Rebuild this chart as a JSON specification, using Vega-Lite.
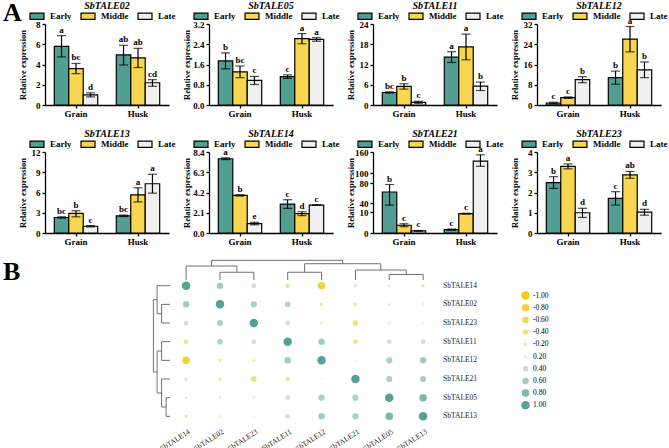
{
"$schema": "https://vega.github.io/schema/vega-lite/v6.json",
"padding": {"left": 3, "top": 0, "right": 0, "bottom": 8},
"background": "white",
"title": {"text": "A", "anchor": "start", "frame": "bounds", "fontSize": 26, "fontStyle": "normal", "fontWeight": "bold", "font": "Liberation Serif", "offset": -25, "color": "black"},
"datasets": {
"bars": [
{"gene":"SbTALE02","tissue":"Grain","stage":"Early","mean":5.8,"lo":4.75,"hi":6.85,"sig":"a"},
{"gene":"SbTALE02","tissue":"Grain","stage":"Middle","mean":3.6,"lo":3.1,"hi":4.1,"sig":"bc"},
{"gene":"SbTALE02","tissue":"Grain","stage":"Late","mean":1.0,"lo":0.8,"hi":1.2,"sig":"d"},
{"gene":"SbTALE02","tissue":"Husk","stage":"Early","mean":4.95,"lo":3.95,"hi":5.9,"sig":"ab"},
{"gene":"SbTALE02","tissue":"Husk","stage":"Middle","mean":4.65,"lo":3.7,"hi":5.6,"sig":"ab"},
{"gene":"SbTALE02","tissue":"Husk","stage":"Late","mean":2.2,"lo":1.85,"hi":2.5,"sig":"cd"},
{"gene":"SbTALE05","tissue":"Grain","stage":"Early","mean":1.74,"lo":1.43,"hi":2.06,"sig":"b"},
{"gene":"SbTALE05","tissue":"Grain","stage":"Middle","mean":1.31,"lo":1.08,"hi":1.54,"sig":"bc"},
{"gene":"SbTALE05","tissue":"Grain","stage":"Late","mean":0.97,"lo":0.81,"hi":1.13,"sig":"c"},
{"gene":"SbTALE05","tissue":"Husk","stage":"Early","mean":1.12,"lo":1.05,"hi":1.19,"sig":"c"},
{"gene":"SbTALE05","tissue":"Husk","stage":"Middle","mean":2.62,"lo":2.42,"hi":2.82,"sig":"a"},
{"gene":"SbTALE05","tissue":"Husk","stage":"Late","mean":2.59,"lo":2.52,"hi":2.66,"sig":"a"},
{"gene":"SbTALE11","tissue":"Grain","stage":"Early","mean":3.7,"lo":3.5,"hi":3.9,"sig":"bc"},
{"gene":"SbTALE11","tissue":"Grain","stage":"Middle","mean":5.5,"lo":4.7,"hi":6.3,"sig":"b"},
{"gene":"SbTALE11","tissue":"Grain","stage":"Late","mean":0.8,"lo":0.5,"hi":1.1,"sig":"c"},
{"gene":"SbTALE11","tissue":"Husk","stage":"Early","mean":14.2,"lo":12.6,"hi":15.8,"sig":"a"},
{"gene":"SbTALE11","tissue":"Husk","stage":"Middle","mean":17.2,"lo":13.4,"hi":21.0,"sig":"a"},
{"gene":"SbTALE11","tissue":"Husk","stage":"Late","mean":5.6,"lo":4.3,"hi":6.8,"sig":"b"},
{"gene":"SbTALE12","tissue":"Grain","stage":"Early","mean":0.8,"lo":0.5,"hi":1.1,"sig":"c"},
{"gene":"SbTALE12","tissue":"Grain","stage":"Middle","mean":2.9,"lo":2.6,"hi":3.2,"sig":"c"},
{"gene":"SbTALE12","tissue":"Grain","stage":"Late","mean":10.0,"lo":8.8,"hi":11.2,"sig":"b"},
{"gene":"SbTALE12","tissue":"Husk","stage":"Early","mean":10.8,"lo":8.2,"hi":13.4,"sig":"b"},
{"gene":"SbTALE12","tissue":"Husk","stage":"Middle","mean":26.0,"lo":21.0,"hi":31.0,"sig":"a"},
{"gene":"SbTALE12","tissue":"Husk","stage":"Late","mean":13.9,"lo":10.8,"hi":17.0,"sig":"b"},
{"gene":"SbTALE13","tissue":"Grain","stage":"Early","mean":2.3,"lo":2.2,"hi":2.4,"sig":"bc"},
{"gene":"SbTALE13","tissue":"Grain","stage":"Middle","mean":2.9,"lo":2.4,"hi":3.3,"sig":"b"},
{"gene":"SbTALE13","tissue":"Grain","stage":"Late","mean":1.0,"lo":0.9,"hi":1.1,"sig":"c"},
{"gene":"SbTALE13","tissue":"Husk","stage":"Early","mean":2.55,"lo":2.45,"hi":2.65,"sig":"bc"},
{"gene":"SbTALE13","tissue":"Husk","stage":"Middle","mean":5.65,"lo":4.6,"hi":6.7,"sig":"a"},
{"gene":"SbTALE13","tissue":"Husk","stage":"Late","mean":7.3,"lo":5.9,"hi":8.7,"sig":"a"},
{"gene":"SbTALE14","tissue":"Grain","stage":"Early","mean":7.7,"lo":7.6,"hi":7.8,"sig":"a"},
{"gene":"SbTALE14","tissue":"Grain","stage":"Middle","mean":3.9,"lo":3.83,"hi":3.97,"sig":"b"},
{"gene":"SbTALE14","tissue":"Grain","stage":"Late","mean":0.98,"lo":0.85,"hi":1.11,"sig":"e"},
{"gene":"SbTALE14","tissue":"Husk","stage":"Early","mean":3.0,"lo":2.55,"hi":3.45,"sig":"c"},
{"gene":"SbTALE14","tissue":"Husk","stage":"Middle","mean":2.0,"lo":1.8,"hi":2.2,"sig":"d"},
{"gene":"SbTALE14","tissue":"Husk","stage":"Late","mean":2.9,"lo":2.9,"hi":2.9,"sig":"c"},
{"gene":"SbTALE21","tissue":"Grain","stage":"Early","mean":62,"lo":33,"hi":77,"sig":"b"},
{"gene":"SbTALE21","tissue":"Grain","stage":"Middle","mean":3.7,"lo":3.0,"hi":4.4,"sig":"c"},
{"gene":"SbTALE21","tissue":"Grain","stage":"Late","mean":1.0,"lo":0.8,"hi":1.2,"sig":"c"},
{"gene":"SbTALE21","tissue":"Husk","stage":"Early","mean":1.6,"lo":1.3,"hi":1.9,"sig":"c"},
{"gene":"SbTALE21","tissue":"Husk","stage":"Middle","mean":9.2,"lo":9.0,"hi":9.4,"sig":"c"},
{"gene":"SbTALE21","tissue":"Husk","stage":"Late","mean":134,"lo":119,"hi":152,"sig":"a"},
{"gene":"SbTALE23","tissue":"Grain","stage":"Early","mean":2.49,"lo":2.2,"hi":2.78,"sig":"b"},
{"gene":"SbTALE23","tissue":"Grain","stage":"Middle","mean":3.29,"lo":3.17,"hi":3.41,"sig":"a"},
{"gene":"SbTALE23","tissue":"Grain","stage":"Late","mean":1.0,"lo":0.77,"hi":1.22,"sig":"d"},
{"gene":"SbTALE23","tissue":"Husk","stage":"Early","mean":1.71,"lo":1.38,"hi":2.04,"sig":"c"},
{"gene":"SbTALE23","tissue":"Husk","stage":"Middle","mean":2.87,"lo":2.7,"hi":3.04,"sig":"ab"},
{"gene":"SbTALE23","tissue":"Husk","stage":"Late","mean":1.03,"lo":0.88,"hi":1.17,"sig":"d"}
],
"corr": [
{"row":"SbTALE14","col":"SbTALE14","i":1,"j":1,"v":1},{"row":"SbTALE14","col":"SbTALE02","i":1,"j":2,"v":0.6},{"row":"SbTALE14","col":"SbTALE23","i":1,"j":3,"v":0.35},{"row":"SbTALE14","col":"SbTALE11","i":1,"j":4,"v":-0.3},{"row":"SbTALE14","col":"SbTALE12","i":1,"j":5,"v":-0.8},{"row":"SbTALE14","col":"SbTALE21","i":1,"j":6,"v":0.25},{"row":"SbTALE14","col":"SbTALE05","i":1,"j":7,"v":-0.1},{"row":"SbTALE14","col":"SbTALE13","i":1,"j":8,"v":-0.2},
{"row":"SbTALE02","col":"SbTALE14","i":2,"j":1,"v":0.6},{"row":"SbTALE02","col":"SbTALE02","i":2,"j":2,"v":1},{"row":"SbTALE02","col":"SbTALE23","i":2,"j":3,"v":0.55},{"row":"SbTALE02","col":"SbTALE11","i":2,"j":4,"v":0.5},{"row":"SbTALE02","col":"SbTALE12","i":2,"j":5,"v":-0.2},{"row":"SbTALE02","col":"SbTALE21","i":2,"j":6,"v":-0.2},{"row":"SbTALE02","col":"SbTALE05","i":2,"j":7,"v":-0.1},{"row":"SbTALE02","col":"SbTALE13","i":2,"j":8,"v":-0.1},
{"row":"SbTALE23","col":"SbTALE14","i":3,"j":1,"v":0.35},{"row":"SbTALE23","col":"SbTALE02","i":3,"j":2,"v":0.55},{"row":"SbTALE23","col":"SbTALE23","i":3,"j":3,"v":1},{"row":"SbTALE23","col":"SbTALE11","i":3,"j":4,"v":0.35},{"row":"SbTALE23","col":"SbTALE12","i":3,"j":5,"v":-0.15},{"row":"SbTALE23","col":"SbTALE21","i":3,"j":6,"v":-0.45},{"row":"SbTALE23","col":"SbTALE05","i":3,"j":7,"v":-0.1},{"row":"SbTALE23","col":"SbTALE13","i":3,"j":8,"v":-0.05},
{"row":"SbTALE11","col":"SbTALE14","i":4,"j":1,"v":-0.3},{"row":"SbTALE11","col":"SbTALE02","i":4,"j":2,"v":0.5},{"row":"SbTALE11","col":"SbTALE23","i":4,"j":3,"v":0.35},{"row":"SbTALE11","col":"SbTALE11","i":4,"j":4,"v":1},{"row":"SbTALE11","col":"SbTALE12","i":4,"j":5,"v":0.6},{"row":"SbTALE11","col":"SbTALE21","i":4,"j":6,"v":-0.3},{"row":"SbTALE11","col":"SbTALE05","i":4,"j":7,"v":0.35},{"row":"SbTALE11","col":"SbTALE13","i":4,"j":8,"v":0.35},
{"row":"SbTALE12","col":"SbTALE14","i":5,"j":1,"v":-0.8},{"row":"SbTALE12","col":"SbTALE02","i":5,"j":2,"v":-0.2},{"row":"SbTALE12","col":"SbTALE23","i":5,"j":3,"v":-0.15},{"row":"SbTALE12","col":"SbTALE11","i":5,"j":4,"v":0.6},{"row":"SbTALE12","col":"SbTALE12","i":5,"j":5,"v":1},{"row":"SbTALE12","col":"SbTALE21","i":5,"j":6,"v":-0.05},{"row":"SbTALE12","col":"SbTALE05","i":5,"j":7,"v":0.55},{"row":"SbTALE12","col":"SbTALE13","i":5,"j":8,"v":0.6},
{"row":"SbTALE21","col":"SbTALE14","i":6,"j":1,"v":0.25},{"row":"SbTALE21","col":"SbTALE02","i":6,"j":2,"v":-0.2},{"row":"SbTALE21","col":"SbTALE23","i":6,"j":3,"v":-0.45},{"row":"SbTALE21","col":"SbTALE11","i":6,"j":4,"v":-0.3},{"row":"SbTALE21","col":"SbTALE12","i":6,"j":5,"v":-0.05},{"row":"SbTALE21","col":"SbTALE21","i":6,"j":6,"v":1},{"row":"SbTALE21","col":"SbTALE05","i":6,"j":7,"v":0.55},{"row":"SbTALE21","col":"SbTALE13","i":6,"j":8,"v":0.55},
{"row":"SbTALE05","col":"SbTALE14","i":7,"j":1,"v":-0.1},{"row":"SbTALE05","col":"SbTALE02","i":7,"j":2,"v":-0.1},{"row":"SbTALE05","col":"SbTALE23","i":7,"j":3,"v":-0.1},{"row":"SbTALE05","col":"SbTALE11","i":7,"j":4,"v":0.35},{"row":"SbTALE05","col":"SbTALE12","i":7,"j":5,"v":0.55},{"row":"SbTALE05","col":"SbTALE21","i":7,"j":6,"v":0.55},{"row":"SbTALE05","col":"SbTALE05","i":7,"j":7,"v":1},{"row":"SbTALE05","col":"SbTALE13","i":7,"j":8,"v":0.8},
{"row":"SbTALE13","col":"SbTALE14","i":8,"j":1,"v":-0.2},{"row":"SbTALE13","col":"SbTALE02","i":8,"j":2,"v":-0.1},{"row":"SbTALE13","col":"SbTALE23","i":8,"j":3,"v":-0.05},{"row":"SbTALE13","col":"SbTALE11","i":8,"j":4,"v":0.35},{"row":"SbTALE13","col":"SbTALE12","i":8,"j":5,"v":0.6},{"row":"SbTALE13","col":"SbTALE21","i":8,"j":6,"v":0.55},{"row":"SbTALE13","col":"SbTALE05","i":8,"j":7,"v":0.8},{"row":"SbTALE13","col":"SbTALE13","i":8,"j":8,"v":1}
],
"rowTree": [
{"h":0.144,"h2":0.527,"p":1,"p2":1},{"h":0.276,"h2":0.527,"p":2,"p2":2},{"h":0.276,"h2":0.527,"p":3,"p2":3},{"h":0.276,"h2":0.527,"p":4,"p2":4},{"h":0.276,"h2":0.527,"p":5,"p2":5},{"h":0.276,"h2":0.527,"p":6,"p2":6},{"h":0.409,"h2":0.527,"p":7,"p2":7},{"h":0.409,"h2":0.527,"p":8,"p2":8},
{"h":0.276,"h2":0.276,"p":2,"p2":3},{"h":0.144,"h2":0.276,"p":2.5,"p2":2.5},{"h":0.144,"h2":0.144,"p":1,"p2":2.5},{"h":0.034,"h2":0.144,"p":1.75,"p2":1.75},
{"h":0.276,"h2":0.276,"p":4,"p2":5},{"h":0.144,"h2":0.276,"p":4.5,"p2":4.5},{"h":0.409,"h2":0.409,"p":7,"p2":8},{"h":0.276,"h2":0.409,"p":7.5,"p2":7.5},
{"h":0.276,"h2":0.276,"p":6,"p2":7.5},{"h":0.144,"h2":0.276,"p":6.75,"p2":6.75},{"h":0.144,"h2":0.144,"p":4.5,"p2":6.75},{"h":0.034,"h2":0.144,"p":5.625,"p2":5.625},{"h":0.034,"h2":0.034,"p":1.75,"p2":5.625}
],
"colTree": [
{"p":1,"p2":1,"h":-0.054,"h2":0.695},{"p":2,"p2":2,"h":0.28,"h2":0.695},{"p":3,"p2":3,"h":0.28,"h2":0.695},{"p":4,"p2":4,"h":0.28,"h2":0.695},{"p":5,"p2":5,"h":0.28,"h2":0.695},{"p":6,"p2":6,"h":0.16,"h2":0.695},{"p":7,"p2":7,"h":0.4,"h2":0.695},{"p":8,"p2":8,"h":0.4,"h2":0.695},
{"p":2,"p2":3,"h":0.28,"h2":0.28},{"p":2.5,"p2":2.5,"h":-0.054,"h2":0.28},{"p":1,"p2":2.5,"h":-0.054,"h2":-0.054},{"p":1.75,"p2":1.75,"h":-0.359,"h2":-0.054},
{"p":4,"p2":5,"h":0.28,"h2":0.28},{"p":4.5,"p2":4.5,"h":-0.177,"h2":0.28},{"p":7,"p2":8,"h":0.4,"h2":0.4},{"p":7.5,"p2":7.5,"h":0.16,"h2":0.4},
{"p":6,"p2":7.5,"h":0.16,"h2":0.16},{"p":6.75,"p2":6.75,"h":-0.177,"h2":0.16},{"p":4.5,"p2":6.75,"h":-0.177,"h2":-0.177},{"p":5.625,"p2":5.625,"h":-0.359,"h2":-0.177},{"p":1.75,"p2":5.625,"h":-0.359,"h2":-0.359}
]
},
"columns": 4,
"align": "none",
"bounds": "flush",
"spacing": {"row": 47, "column": 40},
"resolve": {"scale": {"color": "independent", "size": "independent"}, "legend": {"color": "independent", "size": "independent"}},
"concat": [
{"title": "SbTALE02", "width": 124, "height": 81, "data": {"name": "bars"}, "transform": [{"filter": "datum.gene === 'SbTALE02'"}],
"encoding": {"x": {"field": "tissue", "type": "nominal", "sort": ["Grain", "Husk"], "title": null, "scale": {"paddingInner": 0.3, "paddingOuter": 0.15}, "axis": {"labelAngle": 0}}, "xOffset": {"field": "stage", "type": "nominal", "sort": ["Early", "Middle", "Late"], "scale": {"paddingInner": 0, "paddingOuter": 0}}},
"layer": [
{"mark": {"type": "bar", "stroke": "black", "strokeWidth": 1.2}, "encoding": {"y": {"field": "mean", "type": "quantitative", "title": "Relative expression", "scale": {"domain": [0, 8], "nice": false}, "axis": {"values": [0, 2, 4, 6, 8], "labelOverlap": false}}, "color": {"field": "stage", "type": "nominal", "sort": ["Early", "Middle", "Late"], "legend": {"title": null}}}},
{"mark": {"type": "rule", "color": "black", "strokeWidth": 1.2}, "encoding": {"y": {"field": "lo", "type": "quantitative", "title": "Relative expression", "axis": {"values": [0, 2, 4, 6, 8], "labelOverlap": false}}, "y2": {"field": "hi"}}},
{"mark": {"type": "tick", "color": "black", "thickness": 1.2, "size": 9}, "encoding": {"y": {"field": "lo", "type": "quantitative", "title": "Relative expression", "axis": {"values": [0, 2, 4, 6, 8], "labelOverlap": false}}}},
{"mark": {"type": "tick", "color": "black", "thickness": 1.2, "size": 9}, "encoding": {"y": {"field": "hi", "type": "quantitative", "title": "Relative expression", "axis": {"values": [0, 2, 4, 6, 8], "labelOverlap": false}}}},
{"mark": {"type": "text", "baseline": "bottom", "dy": -1, "font": "Liberation Serif", "fontWeight": "bold", "fontSize": 9, "color": "black"}, "encoding": {"y": {"field": "hi", "type": "quantitative", "title": "Relative expression", "axis": {"values": [0, 2, 4, 6, 8], "labelOverlap": false}}, "text": {"field": "sig"}}}
]},
{"title": "SbTALE05", "width": 124, "height": 81, "data": {"name": "bars"}, "transform": [{"filter": "datum.gene === 'SbTALE05'"}],
"encoding": {"x": {"field": "tissue", "type": "nominal", "sort": ["Grain", "Husk"], "title": null, "scale": {"paddingInner": 0.3, "paddingOuter": 0.15}, "axis": {"labelAngle": 0}}, "xOffset": {"field": "stage", "type": "nominal", "sort": ["Early", "Middle", "Late"], "scale": {"paddingInner": 0, "paddingOuter": 0}}},
"layer": [
{"mark": {"type": "bar", "stroke": "black", "strokeWidth": 1.2}, "encoding": {"y": {"field": "mean", "type": "quantitative", "title": "Relative expression", "scale": {"domain": [0, 3.2], "nice": false}, "axis": {"values": [0, 0.8, 1.6, 2.4, 3.2], "format": ".1f", "labelOverlap": false}}, "color": {"field": "stage", "type": "nominal", "sort": ["Early", "Middle", "Late"], "legend": {"title": null}}}},
{"mark": {"type": "rule", "color": "black", "strokeWidth": 1.2}, "encoding": {"y": {"field": "lo", "type": "quantitative", "title": "Relative expression", "axis": {"values": [0, 0.8, 1.6, 2.4, 3.2], "format": ".1f", "labelOverlap": false}}, "y2": {"field": "hi"}}},
{"mark": {"type": "tick", "color": "black", "thickness": 1.2, "size": 9}, "encoding": {"y": {"field": "lo", "type": "quantitative", "title": "Relative expression", "axis": {"values": [0, 0.8, 1.6, 2.4, 3.2], "format": ".1f", "labelOverlap": false}}}},
{"mark": {"type": "tick", "color": "black", "thickness": 1.2, "size": 9}, "encoding": {"y": {"field": "hi", "type": "quantitative", "title": "Relative expression", "axis": {"values": [0, 0.8, 1.6, 2.4, 3.2], "format": ".1f", "labelOverlap": false}}}},
{"mark": {"type": "text", "baseline": "bottom", "dy": -1, "font": "Liberation Serif", "fontWeight": "bold", "fontSize": 9, "color": "black"}, "encoding": {"y": {"field": "hi", "type": "quantitative", "title": "Relative expression", "axis": {"values": [0, 0.8, 1.6, 2.4, 3.2], "format": ".1f", "labelOverlap": false}}, "text": {"field": "sig"}}}
]},
{"title": "SbTALE11", "width": 124, "height": 81, "data": {"name": "bars"}, "transform": [{"filter": "datum.gene === 'SbTALE11'"}],
"encoding": {"x": {"field": "tissue", "type": "nominal", "sort": ["Grain", "Husk"], "title": null, "scale": {"paddingInner": 0.3, "paddingOuter": 0.15}, "axis": {"labelAngle": 0}}, "xOffset": {"field": "stage", "type": "nominal", "sort": ["Early", "Middle", "Late"], "scale": {"paddingInner": 0, "paddingOuter": 0}}},
"layer": [
{"mark": {"type": "bar", "stroke": "black", "strokeWidth": 1.2}, "encoding": {"y": {"field": "mean", "type": "quantitative", "title": "Relative expression", "scale": {"domain": [0, 24], "nice": false}, "axis": {"values": [0, 6, 12, 18, 24], "labelOverlap": false}}, "color": {"field": "stage", "type": "nominal", "sort": ["Early", "Middle", "Late"], "legend": {"title": null}}}},
{"mark": {"type": "rule", "color": "black", "strokeWidth": 1.2}, "encoding": {"y": {"field": "lo", "type": "quantitative", "title": "Relative expression", "axis": {"values": [0, 6, 12, 18, 24], "labelOverlap": false}}, "y2": {"field": "hi"}}},
{"mark": {"type": "tick", "color": "black", "thickness": 1.2, "size": 9}, "encoding": {"y": {"field": "lo", "type": "quantitative", "title": "Relative expression", "axis": {"values": [0, 6, 12, 18, 24], "labelOverlap": false}}}},
{"mark": {"type": "tick", "color": "black", "thickness": 1.2, "size": 9}, "encoding": {"y": {"field": "hi", "type": "quantitative", "title": "Relative expression", "axis": {"values": [0, 6, 12, 18, 24], "labelOverlap": false}}}},
{"mark": {"type": "text", "baseline": "bottom", "dy": -1, "font": "Liberation Serif", "fontWeight": "bold", "fontSize": 9, "color": "black"}, "encoding": {"y": {"field": "hi", "type": "quantitative", "title": "Relative expression", "axis": {"values": [0, 6, 12, 18, 24], "labelOverlap": false}}, "text": {"field": "sig"}}}
]},
{"title": "SbTALE12", "width": 124, "height": 81, "data": {"name": "bars"}, "transform": [{"filter": "datum.gene === 'SbTALE12'"}],
"encoding": {"x": {"field": "tissue", "type": "nominal", "sort": ["Grain", "Husk"], "title": null, "scale": {"paddingInner": 0.3, "paddingOuter": 0.15}, "axis": {"labelAngle": 0}}, "xOffset": {"field": "stage", "type": "nominal", "sort": ["Early", "Middle", "Late"], "scale": {"paddingInner": 0, "paddingOuter": 0}}},
"layer": [
{"mark": {"type": "bar", "stroke": "black", "strokeWidth": 1.2}, "encoding": {"y": {"field": "mean", "type": "quantitative", "title": "Relative expression", "scale": {"domain": [0, 32], "nice": false}, "axis": {"values": [0, 8, 16, 24, 32], "labelOverlap": false}}, "color": {"field": "stage", "type": "nominal", "sort": ["Early", "Middle", "Late"], "legend": {"title": null}}}},
{"mark": {"type": "rule", "color": "black", "strokeWidth": 1.2}, "encoding": {"y": {"field": "lo", "type": "quantitative", "title": "Relative expression", "axis": {"values": [0, 8, 16, 24, 32], "labelOverlap": false}}, "y2": {"field": "hi"}}},
{"mark": {"type": "tick", "color": "black", "thickness": 1.2, "size": 9}, "encoding": {"y": {"field": "lo", "type": "quantitative", "title": "Relative expression", "axis": {"values": [0, 8, 16, 24, 32], "labelOverlap": false}}}},
{"mark": {"type": "tick", "color": "black", "thickness": 1.2, "size": 9}, "encoding": {"y": {"field": "hi", "type": "quantitative", "title": "Relative expression", "axis": {"values": [0, 8, 16, 24, 32], "labelOverlap": false}}}},
{"mark": {"type": "text", "baseline": "bottom", "dy": -1, "font": "Liberation Serif", "fontWeight": "bold", "fontSize": 9, "color": "black"}, "encoding": {"y": {"field": "hi", "type": "quantitative", "title": "Relative expression", "axis": {"values": [0, 8, 16, 24, 32], "labelOverlap": false}}, "text": {"field": "sig"}}}
]},
{"title": "SbTALE13", "width": 124, "height": 81, "data": {"name": "bars"}, "transform": [{"filter": "datum.gene === 'SbTALE13'"}],
"encoding": {"x": {"field": "tissue", "type": "nominal", "sort": ["Grain", "Husk"], "title": null, "scale": {"paddingInner": 0.3, "paddingOuter": 0.15}, "axis": {"labelAngle": 0}}, "xOffset": {"field": "stage", "type": "nominal", "sort": ["Early", "Middle", "Late"], "scale": {"paddingInner": 0, "paddingOuter": 0}}},
"layer": [
{"mark": {"type": "bar", "stroke": "black", "strokeWidth": 1.2}, "encoding": {"y": {"field": "mean", "type": "quantitative", "title": "Relative expression", "scale": {"domain": [0, 12], "nice": false}, "axis": {"values": [0, 3, 6, 9, 12], "labelOverlap": false}}, "color": {"field": "stage", "type": "nominal", "sort": ["Early", "Middle", "Late"], "legend": {"title": null}}}},
{"mark": {"type": "rule", "color": "black", "strokeWidth": 1.2}, "encoding": {"y": {"field": "lo", "type": "quantitative", "title": "Relative expression", "axis": {"values": [0, 3, 6, 9, 12], "labelOverlap": false}}, "y2": {"field": "hi"}}},
{"mark": {"type": "tick", "color": "black", "thickness": 1.2, "size": 9}, "encoding": {"y": {"field": "lo", "type": "quantitative", "title": "Relative expression", "axis": {"values": [0, 3, 6, 9, 12], "labelOverlap": false}}}},
{"mark": {"type": "tick", "color": "black", "thickness": 1.2, "size": 9}, "encoding": {"y": {"field": "hi", "type": "quantitative", "title": "Relative expression", "axis": {"values": [0, 3, 6, 9, 12], "labelOverlap": false}}}},
{"mark": {"type": "text", "baseline": "bottom", "dy": -1, "font": "Liberation Serif", "fontWeight": "bold", "fontSize": 9, "color": "black"}, "encoding": {"y": {"field": "hi", "type": "quantitative", "title": "Relative expression", "axis": {"values": [0, 3, 6, 9, 12], "labelOverlap": false}}, "text": {"field": "sig"}}}
]},
{"title": "SbTALE14", "width": 124, "height": 81, "data": {"name": "bars"}, "transform": [{"filter": "datum.gene === 'SbTALE14'"}],
"encoding": {"x": {"field": "tissue", "type": "nominal", "sort": ["Grain", "Husk"], "title": null, "scale": {"paddingInner": 0.3, "paddingOuter": 0.15}, "axis": {"labelAngle": 0}}, "xOffset": {"field": "stage", "type": "nominal", "sort": ["Early", "Middle", "Late"], "scale": {"paddingInner": 0, "paddingOuter": 0}}},
"layer": [
{"mark": {"type": "bar", "stroke": "black", "strokeWidth": 1.2}, "encoding": {"y": {"field": "mean", "type": "quantitative", "title": "Relative expression", "scale": {"domain": [0, 8.4], "nice": false}, "axis": {"values": [0, 2.1, 4.2, 6.3, 8.4], "format": ".1f", "labelOverlap": false}}, "color": {"field": "stage", "type": "nominal", "sort": ["Early", "Middle", "Late"], "legend": {"title": null}}}},
{"mark": {"type": "rule", "color": "black", "strokeWidth": 1.2}, "encoding": {"y": {"field": "lo", "type": "quantitative", "title": "Relative expression", "axis": {"values": [0, 2.1, 4.2, 6.3, 8.4], "format": ".1f", "labelOverlap": false}}, "y2": {"field": "hi"}}},
{"mark": {"type": "tick", "color": "black", "thickness": 1.2, "size": 9}, "encoding": {"y": {"field": "lo", "type": "quantitative", "title": "Relative expression", "axis": {"values": [0, 2.1, 4.2, 6.3, 8.4], "format": ".1f", "labelOverlap": false}}}},
{"mark": {"type": "tick", "color": "black", "thickness": 1.2, "size": 9}, "encoding": {"y": {"field": "hi", "type": "quantitative", "title": "Relative expression", "axis": {"values": [0, 2.1, 4.2, 6.3, 8.4], "format": ".1f", "labelOverlap": false}}}},
{"mark": {"type": "text", "baseline": "bottom", "dy": -1, "font": "Liberation Serif", "fontWeight": "bold", "fontSize": 9, "color": "black"}, "encoding": {"y": {"field": "hi", "type": "quantitative", "title": "Relative expression", "axis": {"values": [0, 2.1, 4.2, 6.3, 8.4], "format": ".1f", "labelOverlap": false}}, "text": {"field": "sig"}}}
]},
{"title": "SbTALE21", "width": 124, "height": 81, "data": {"name": "bars"}, "transform": [{"filter": "datum.gene === 'SbTALE21'"}],
"encoding": {"x": {"field": "tissue", "type": "nominal", "sort": ["Grain", "Husk"], "title": null, "scale": {"paddingInner": 0.3, "paddingOuter": 0.15}, "axis": {"labelAngle": 0}}, "xOffset": {"field": "stage", "type": "nominal", "sort": ["Early", "Middle", "Late"], "scale": {"paddingInner": 0, "paddingOuter": 0}}},
"layer": [
{"mark": {"type": "bar", "stroke": "black", "strokeWidth": 1.2}, "encoding": {"y": {"field": "mean", "type": "quantitative", "title": "Relative expression", "scale": {"domain": [0, 10, 40, 80, 100, 160], "range": [81, 60, 51, 31, 21, 0], "nice": false, "zero": false}, "axis": {"values": [0, 10, 40, 80, 100, 160], "labelOverlap": false}}, "color": {"field": "stage", "type": "nominal", "sort": ["Early", "Middle", "Late"], "legend": {"title": null}}}},
{"mark": {"type": "rule", "color": "black", "strokeWidth": 1.2}, "encoding": {"y": {"field": "lo", "type": "quantitative", "title": "Relative expression", "axis": {"values": [0, 10, 40, 80, 100, 160], "labelOverlap": false}}, "y2": {"field": "hi"}}},
{"mark": {"type": "tick", "color": "black", "thickness": 1.2, "size": 9}, "encoding": {"y": {"field": "lo", "type": "quantitative", "title": "Relative expression", "axis": {"values": [0, 10, 40, 80, 100, 160], "labelOverlap": false}}}},
{"mark": {"type": "tick", "color": "black", "thickness": 1.2, "size": 9}, "encoding": {"y": {"field": "hi", "type": "quantitative", "title": "Relative expression", "axis": {"values": [0, 10, 40, 80, 100, 160], "labelOverlap": false}}}},
{"mark": {"type": "text", "baseline": "bottom", "dy": -1, "font": "Liberation Serif", "fontWeight": "bold", "fontSize": 9, "color": "black"}, "encoding": {"y": {"field": "hi", "type": "quantitative", "title": "Relative expression", "axis": {"values": [0, 10, 40, 80, 100, 160], "labelOverlap": false}}, "text": {"field": "sig"}}}
]},
{"title": "SbTALE23", "width": 124, "height": 81, "data": {"name": "bars"}, "transform": [{"filter": "datum.gene === 'SbTALE23'"}],
"encoding": {"x": {"field": "tissue", "type": "nominal", "sort": ["Grain", "Husk"], "title": null, "scale": {"paddingInner": 0.3, "paddingOuter": 0.15}, "axis": {"labelAngle": 0}}, "xOffset": {"field": "stage", "type": "nominal", "sort": ["Early", "Middle", "Late"], "scale": {"paddingInner": 0, "paddingOuter": 0}}},
"layer": [
{"mark": {"type": "bar", "stroke": "black", "strokeWidth": 1.2}, "encoding": {"y": {"field": "mean", "type": "quantitative", "title": "Relative expression", "scale": {"domain": [0, 4], "nice": false}, "axis": {"values": [0, 1, 2, 3, 4], "labelOverlap": false}}, "color": {"field": "stage", "type": "nominal", "sort": ["Early", "Middle", "Late"], "legend": {"title": null}}}},
{"mark": {"type": "rule", "color": "black", "strokeWidth": 1.2}, "encoding": {"y": {"field": "lo", "type": "quantitative", "title": "Relative expression", "axis": {"values": [0, 1, 2, 3, 4], "labelOverlap": false}}, "y2": {"field": "hi"}}},
{"mark": {"type": "tick", "color": "black", "thickness": 1.2, "size": 9}, "encoding": {"y": {"field": "lo", "type": "quantitative", "title": "Relative expression", "axis": {"values": [0, 1, 2, 3, 4], "labelOverlap": false}}}},
{"mark": {"type": "tick", "color": "black", "thickness": 1.2, "size": 9}, "encoding": {"y": {"field": "hi", "type": "quantitative", "title": "Relative expression", "axis": {"values": [0, 1, 2, 3, 4], "labelOverlap": false}}}},
{"mark": {"type": "text", "baseline": "bottom", "dy": -1, "font": "Liberation Serif", "fontWeight": "bold", "fontSize": 9, "color": "black"}, "encoding": {"y": {"field": "hi", "type": "quantitative", "title": "Relative expression", "axis": {"values": [0, 1, 2, 3, 4], "labelOverlap": false}}, "text": {"field": "sig"}}}
]},
{
"width": 124,
"height": 155,
"layer": [
{"data": {"name": "colTree"}, "mark": {"type": "rule", "color": "#707070", "strokeWidth": 1}, "encoding": {"x": {"field": "p", "type": "quantitative", "axis": null, "scale": {"domain": [-3.167, 9], "range": [0, 412], "nice": false, "zero": false}}, "x2": {"field": "p2"}, "y": {"field": "h", "type": "quantitative", "axis": null, "scale": {"domain": [0.695, 9], "reverse": true, "nice": false, "zero": false}}, "y2": {"field": "h2"}}},
{"data": {"name": "rowTree"}, "mark": {"type": "rule", "color": "#707070", "strokeWidth": 1}, "encoding": {"x": {"field": "h", "type": "quantitative", "axis": null}, "x2": {"field": "h2"}, "y": {"field": "p", "type": "quantitative", "axis": null}, "y2": {"field": "p2"}}},
{"data": {"name": "corr"}, "mark": {"type": "circle", "opacity": 1},
"encoding": {"x": {"field": "j", "type": "quantitative", "axis": null}, "y": {"field": "i", "type": "quantitative", "axis": null},
"color": {"field": "v", "type": "quantitative", "scale": {"domain": [-1, -0.6, -0.2, 0, 0.2, 0.6, 1], "range": ["#F0CD1A", "#F2D757", "#F3E396", "#F5F5F2", "#E6EEEC", "#A3CBC4", "#55A195"]}, "legend": {"title": null, "orient": "none", "direction": "vertical", "legendX": 476, "legendY": 11, "values": [-1, -0.8, -0.6, -0.4, -0.2, 0.2, 0.4, 0.6, 0.8, 1], "symbolType": "circle", "symbolStrokeWidth": 0, "labelFont": "Liberation Serif", "labelFontWeight": "normal", "labelFontSize": 7.5, "labelOffset": 3, "clipHeight": 9, "rowPadding": 3.2, "labelExpr": "replace(format(datum.value, '.2f'), '\u2212', '-')"}},
"size": {"field": "v", "type": "quantitative", "scale": {"domain": [-1, -0.6, -0.2, 0, 0.2, 0.6, 1], "range": [72, 42, 12, 2, 12, 42, 72]}, "legend": {"title": null, "orient": "none", "direction": "vertical", "legendX": 476, "legendY": 11, "values": [-1, -0.8, -0.6, -0.4, -0.2, 0.2, 0.4, 0.6, 0.8, 1], "symbolType": "circle", "symbolStrokeWidth": 0, "labelFont": "Liberation Serif", "labelFontWeight": "normal", "labelFontSize": 7.5, "labelOffset": 3, "clipHeight": 9, "rowPadding": 3.2, "labelExpr": "replace(format(datum.value, '.2f'), '\u2212', '-')"}}}},
{"data": {"name": "corr"}, "transform": [{"filter": "datum.i === datum.j"}], "mark": {"type": "text", "align": "left", "baseline": "middle", "font": "Liberation Serif", "fontSize": 7.5, "color": "#222"}, "encoding": {"x": {"datum": 8.59, "type": "quantitative", "axis": null}, "y": {"field": "i", "type": "quantitative", "axis": null}, "text": {"field": "row"}}},
{"data": {"name": "corr"}, "transform": [{"filter": "datum.i === datum.j"}], "mark": {"type": "text", "align": "right", "baseline": "middle", "angle": 327, "dx": 2, "dy": 3, "font": "Liberation Serif", "fontSize": 7.5, "color": "#222"}, "encoding": {"x": {"field": "j", "type": "quantitative", "axis": null}, "y": {"datum": 8.72, "type": "quantitative", "axis": null}, "text": {"field": "col"}}},
{"data": {"values": [{}]}, "mark": {"type": "text", "align": "center", "baseline": "middle", "font": "Liberation Serif", "fontWeight": "bold", "fontSize": 26, "color": "black"}, "encoding": {"x": {"datum": -4.15, "type": "quantitative", "axis": null}, "y": {"datum": 0.267, "type": "quantitative", "axis": null}, "text": {"value": "B"}}}
]
}
],
"config": {
"font": "Liberation Serif",
"view": {"stroke": null},
"range": {"category": ["#519E93", "#F9D64F", "#EFEFEF"]},
"axis": {"domainColor": "black", "domainWidth": 1.3, "tickColor": "black", "tickWidth": 1.3, "tickSize": 3, "labelColor": "black", "labelFont": "Liberation Serif", "labelFontWeight": "bold", "labelFontSize": 9, "titleFont": "Liberation Serif", "titleFontWeight": "bold", "titleFontSize": 8.5, "titleColor": "black", "grid": false, "labelPadding": 2, "labelOverlap": false},
"axisX": {"labelPadding": 1},
"axisY": {"titleX": -18, "titleY": 40.5},
"legend": {"orient": "none", "direction": "horizontal", "legendX": -16, "legendY": -16, "symbolType": "M-1,-0.45H1V0.45H-1Z", "symbolSize": 196, "symbolStrokeColor": "black", "symbolStrokeWidth": 1.2, "labelFont": "Liberation Serif", "labelFontWeight": "bold", "labelFontSize": 9, "labelColor": "black", "labelOffset": 5, "columnPadding": 6},
"title": {"font": "Liberation Serif", "fontStyle": "italic", "fontWeight": "bold", "fontSize": 10, "color": "black", "offset": -3}
}
}
